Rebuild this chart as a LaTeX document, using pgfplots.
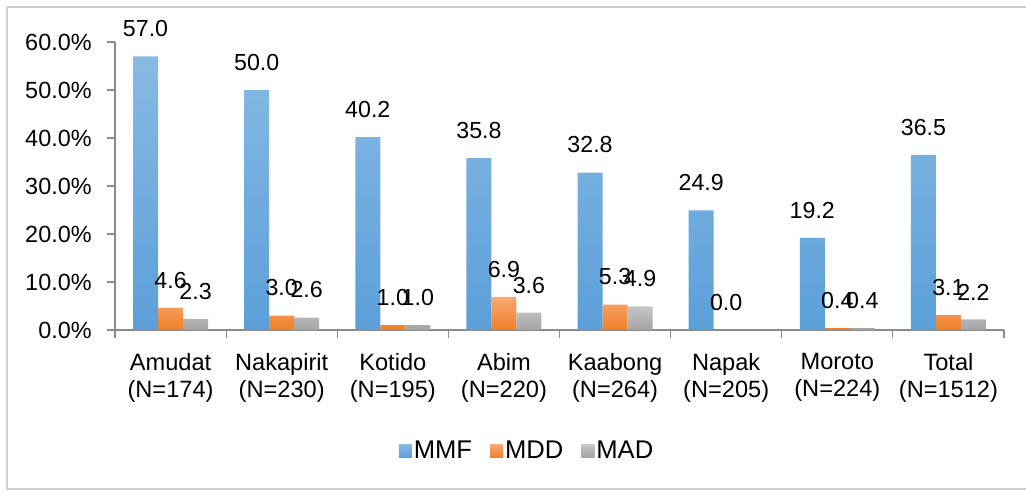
\documentclass[border=0pt]{standalone}
\usepackage{fontspec}
\setmainfont{Liberation Sans}
\usepackage{pgfplots}
\pgfplotsset{compat=1.18}
\usepackage{pgfplotstable}

\definecolor{mmfTop}{HTML}{88BAE4}
\definecolor{mmfBot}{HTML}{5B9FD9}
\definecolor{mddTop}{HTML}{F9A874}
\definecolor{mddBot}{HTML}{EF8026}
\definecolor{madTop}{HTML}{C6C6C6}
\definecolor{madBot}{HTML}{A4A4A4}
\definecolor{axisgray}{HTML}{8A8A8A}
\definecolor{framegray}{HTML}{CFCFCF}

% x: 0 Amudat ... 7 Total
\pgfplotstableread{
x mmf mdd
0 57.0 4.6
1 50.0 3.0
2 40.2 1.0
3 35.8 6.9
4 32.8 5.3
5 24.9 0.0
6 19.2 0.4
7 36.5 3.1
}\maindata

% no MAD value for Napak
\pgfplotstableread{
x mad
0 2.3
1 2.6
2 1.0
3 3.6
4 4.9
6 0.4
7 2.2
}\maddata

\begin{document}
\begin{tikzpicture}
\fontsize{11.7}{13.5}\selectfont
\begin{axis}[
    at={(0,0)}, anchor=south west,
    scale only axis, width=444.5pt, height=144pt,
    ybar=0pt, bar width=12.5pt,
    ymin=0, ymax=60, ytick={0,10,...,60},
    xmin=-0.5, xmax=7.5,
    xtick={-0.5,0.5,...,7.5}, xticklabels={},
    extra x ticks={0,...,7},
    extra x tick labels={Amudat\\(N=174), Nakapirit\\(N=230), Kotido\\(N=195), Abim\\(N=220), Kaabong\\(N=264), Napak\\(N=205), Moroto\\(N=224), Total\\(N=1512)},
    extra x tick style={major tick length=0pt, xticklabel style={anchor=north, inner sep=0pt, yshift=-11.5pt, align=center, font=\fontsize{11.8}{13.5}\selectfont}},
    axis x line*=bottom, axis y line*=left,
    axis line style={axisgray, line width=0.6pt},
    tick style={axisgray, line width=0.6pt},
    tick align=outside, major tick length=4pt,
    /pgf/number format/assume math mode=true,
    yticklabel={\pgfmathprintnumber[fixed,fixed zerofill,precision=1]{\tick}\%},
    yticklabel style={anchor=east, inner sep=0pt, xshift=-7.5pt, font=\fontsize{11.7}{13}\selectfont},
    nodes near coords={\pgfmathprintnumber[fixed,fixed zerofill,precision=1]{\pgfplotspointmeta}},
    every node near coord/.append style={anchor=south, inner sep=0pt, yshift=9.5pt, font=\fontsize{11.6}{13}\selectfont, text=black},
    legend columns=-1,
    legend style={at={(0.4635,-0.42)}, anchor=center, draw=none, fill=none,
      font=\fontsize{12.8}{14}\selectfont,
      /tikz/every even column/.append style={column sep=8pt},
      nodes={inner sep=1pt}},
    legend image code/.code={\path[#1, draw=none] (0pt,-3.25pt) rectangle (6.5pt,3.25pt);},
]
\addplot[draw=none, top color=mmfTop, bottom color=mmfBot] table[x=x, y=mmf] {\maindata};
\addplot[draw=none, top color=mddTop, bottom color=mddBot] table[x=x, y=mdd] {\maindata};
\addplot[draw=none, top color=madTop, bottom color=madBot] table[x=x, y=mad] {\maddata};
\legend{MMF, MDD, MAD}
\end{axis}
\pgfresetboundingbox
\path (-57.5pt,-80.5pt) rectangle (455.5pt,165pt);
\draw[overlay, framegray, line width=0.8pt] (-54pt,-79.5pt) rectangle (470pt,161.5pt);
\end{tikzpicture}
\end{document}
